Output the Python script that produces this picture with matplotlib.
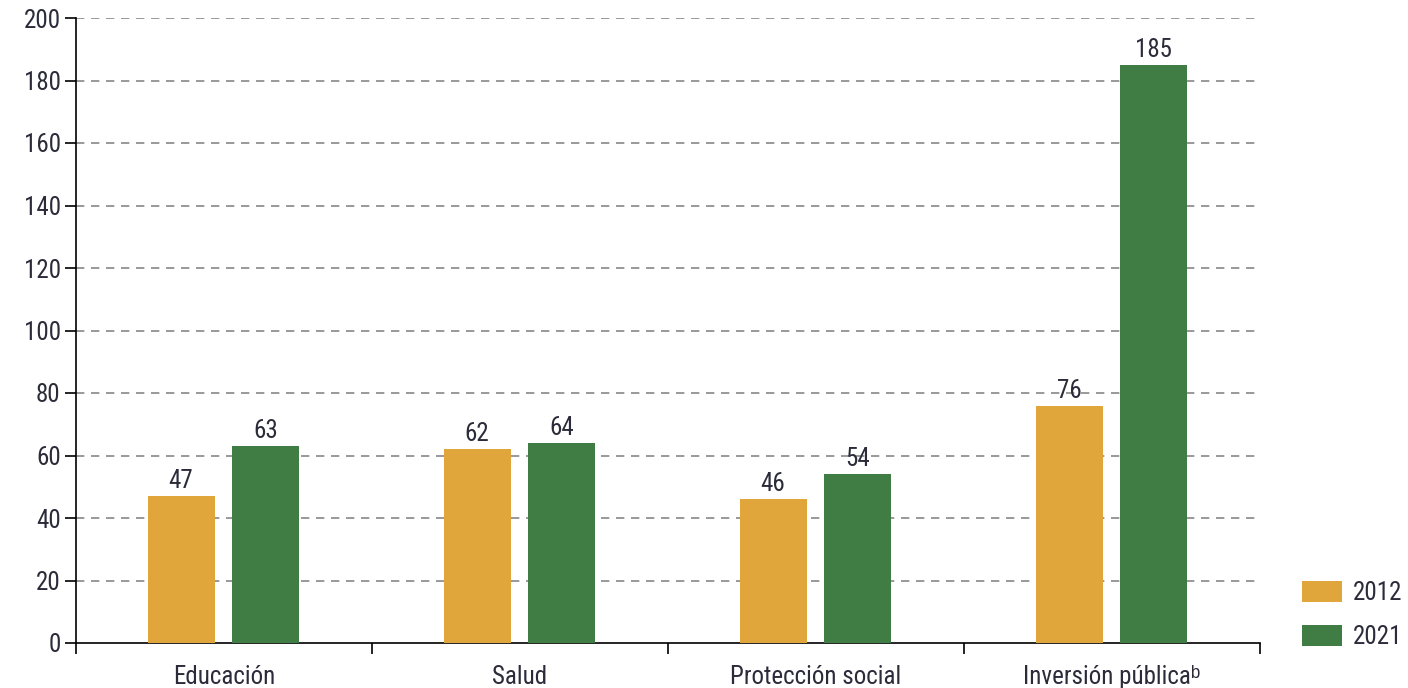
import numpy as np
from matplotlib import pyplot as plt

categories = ["Educación", "Salud", "Protección social", "Inversión pública\u1d47"]
years = ["2012", "2021"]
values_2012 = [47, 62, 46, 76]
values_2021 = [63, 64, 54, 185]

plt.rcParams['font.family'] = ['Roboto Condensed', 'Liberation Sans Narrow', 'Liberation Sans', 'DejaVu Sans']

fig = plt.figure(figsize=(14.08, 6.88), dpi=100)
ax = fig.add_axes([76/1408, 1 - 643/688, (1260-76)/1408, (643-18)/688])

x = np.arange(len(categories))
w = 0.226
orange = "#E0A53B"
green = "#3F7D45"
txt = "#2b2b3a"
fs = 18
b1 = ax.bar(x - 0.145, values_2012, w, color=orange, label=years[0], zorder=3)
b2 = ax.bar(x + 0.14, values_2021, w, color=green, label=years[1], zorder=3)

for bars in (b1, b2):
    for r in bars:
        ax.annotate(str(int(r.get_height())), (r.get_x() + r.get_width()/2, r.get_height()),
                    xytext=(0, 2), textcoords="offset points", ha="center", va="bottom",
                    fontsize=fs, color=txt)

ax.set_xlim(-0.5, 3.5)
ax.set_ylim(0, 200)
ax.set_yticks(range(0, 201, 20))
ax.set_xticks([-0.5, 0.5, 1.5, 2.5, 3.5])
ax.set_xticklabels([])
ax.set_xticks(x, minor=True)
ax.set_xticklabels(categories, minor=True)
ax.tick_params(axis="x", which="minor", length=0, labelsize=fs, pad=16, labelcolor=txt)
ax.tick_params(axis="x", which="major", length=8, width=1.2, direction="out")
ax.tick_params(axis="y", length=8, width=1.2, labelsize=fs, pad=3, labelcolor=txt)

for y in range(20, 201, 20):
    ax.axhline(y, color="#888888", lw=1.2, ls=(0, (5, 4)), zorder=1)

for s in ["top", "right"]:
    ax.spines[s].set_visible(False)
ax.spines["left"].set_linewidth(1.2)
ax.spines["bottom"].set_linewidth(1.2)

fig.legend(loc="upper left", bbox_to_anchor=(1302/1408, 1 - 581/688), frameon=False, fontsize=fs,
           handlelength=1.6, handleheight=0.9, labelspacing=0.8, handletextpad=0.45,
           borderpad=0, borderaxespad=0, labelcolor=txt)

fig.savefig("out.png", dpi=100)
